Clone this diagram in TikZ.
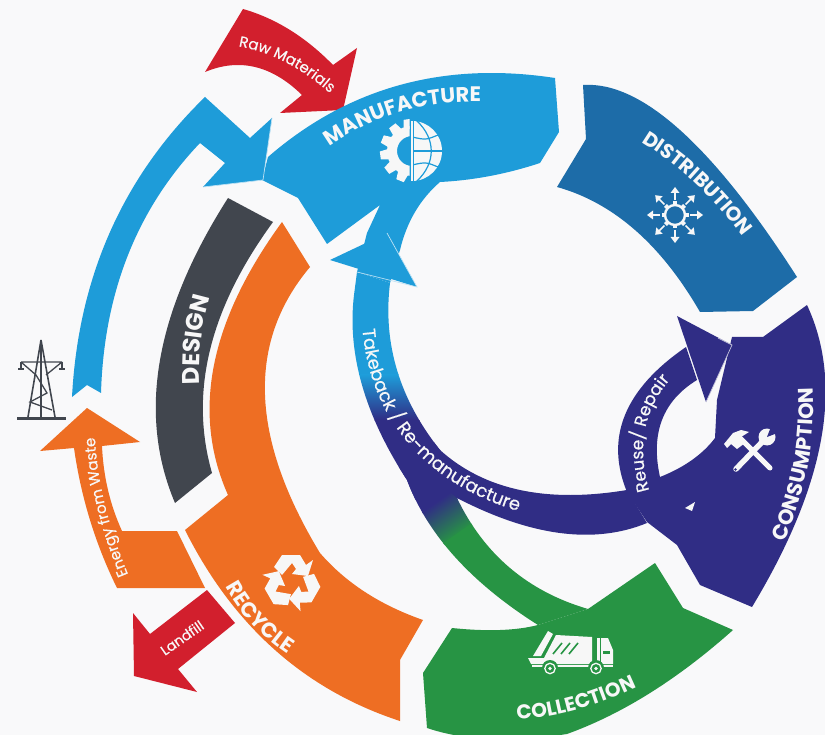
\documentclass[tikz,border=0pt]{standalone}
\usepackage{fontspec}
\usetikzlibrary{decorations.text}
\setmainfont{Poppins}
\newfontfamily\hdfont{Poppins}
\newfontfamily\smfont[FakeBold=0.5]{Poppins}
\definecolor{bgc}{HTML}{F9F9FA}
\definecolor{lblue}{HTML}{1E9CD9}
\definecolor{dblue}{HTML}{1D6CA8}
\definecolor{purp}{HTML}{302D85}
\definecolor{grn}{HTML}{279444}
\definecolor{org}{HTML}{EE6E23}
\definecolor{drk}{HTML}{41464E}
\definecolor{rd}{HTML}{D21F2D}
\definecolor{wht}{HTML}{F7F7F7}
% curve from a through m to b: \qa{ax}{ay}{mx}{my}{bx}{by}
\newcommand\qa[6]{.. controls ({#1+2/3*(2*#3-(#1+#5)/2-#1)},{#2+2/3*(2*#4-(#2+#6)/2-#2)}) and ({#5+2/3*(2*#3-(#1+#5)/2-#5)},{#6+2/3*(2*#4-(#2+#6)/2-#6)}) .. (#5,#6)}
\tikzset{
 hd/.style 2 args={decorate,decoration={text along path,text align=center,text={|\hdfont\bfseries\fontsize{#1}{#1}\selectfont\color{wht}|#2}}},
 sm/.style 2 args={decorate,decoration={text along path,text align=center,text={|\smfont\fontsize{#1}{#1}\selectfont\color{wht}|#2}}},
}
\begin{document}
\begin{tikzpicture}[x=1pt,y=-1pt]
\useasboundingbox (0,0) rectangle (825,735);
\fill[bgc] (0,0) rectangle (825,735);
% raw materials
\fill[rd] (243,9) \qa{243}{9}{290}{30}{333}{65} -- (357,48) -- (343,110) -- (280,113) -- (302,95) \qa{302}{95}{255}{67}{205}{72} -- cycle;
% energy loop arrow
\fill[lblue] (72,397) \qa{72}{397}{110}{232}{205}{97} -- (250,138) -- (272,118) -- (263,180) -- (203,187) -- (225,163) -- (200,143) \qa{200}{143}{128}{255}{101}{393} -- (87,385) -- cycle;
% manufacture
\fill[lblue] (262,180) -- (268,157) \qa{268}{157}{400}{85}{555}{78} -- (559,132) -- (540,163) \qa{540}{163}{490}{176}{440}{182} \qa{440}{182}{415}{212}{400}{250} -- (390,283) -- (357,272) -- (367,233) -- (380,205) -- (327,244) -- (298,198) -- cycle;
% distribution
\fill[dblue] (583,85) \qa{583}{85}{680}{130}{797}{277} -- (753,311) -- (700,312) \qa{700}{312}{635}{230}{557}{187} -- (586,139) -- cycle;
% design
\fill[drk] (228,198) -- (273,222) \qa{273}{222}{210}{350}{212}{473} -- (175,503) \qa{175}{503}{160}{360}{228}{198} -- cycle;
% recycle
\fill[org] (282,222) -- (310,267) \qa{310}{267}{265}{395}{320}{553} \qa{320}{553}{365}{592}{423}{620} -- (400,660) -- (400,721) \qa{400}{721}{275}{650}{185}{530} -- (228,495) \qa{228}{495}{214}{365}{282}{222} -- cycle;
% energy from waste
\fill[org] (87,408) -- (140,442) -- (102,446) \qa{102}{446}{108}{490}{122}{531} -- (177,531) -- (205,588) -- (117,588) \qa{117}{588}{90}{520}{74}{448} -- (40,451) -- cycle;
% landfill
\fill[rd] (207,590) -- (235,623) -- (178,669) -- (197,692) -- (134,676) -- (133,613) -- (150,634) -- cycle;
% takeback band with gradients
\begin{scope}
\clip (357,272) -- (354,295) \qa{354}{295}{362}{385}{407}{480} \qa{407}{480}{455}{557}{538}{625} -- (588,609) \qa{588}{609}{510}{568}{457}{498} -- (440,450) \qa{440}{450}{397}{370}{390}{283} -- cycle;
\fill[lblue] (330,250) rectangle (430,375);
\shade[top color=lblue,bottom color=purp] (330,375) rectangle (430,420);
\fill[purp] (330,420) rectangle (480,500);
\begin{scope}[transform canvas={rotate around={35:(445,520)}}]
\fill[purp] (380,450) rectangle (510,502);
\shade[top color=purp,bottom color=grn] (380,500) rectangle (510,540);
\fill[grn] (380,538) rectangle (620,680);
\end{scope}
\end{scope}
% purple band
\fill[purp] (440,450) \qa{440}{450}{520}{490}{627}{490} -- (647,523) \qa{647}{523}{560}{533}{457}{498} -- (425,470) -- cycle;
% collection
\fill[grn] (538,625) -- (588,609) -- (655,563) -- (683,608) -- (733,630) \qa{733}{630}{650}{693}{567}{734} \qa{567}{734}{490}{739}{427}{728} -- (423,673) -- (452,628) \qa{452}{628}{500}{630}{538}{625} -- cycle;
% consumption
\fill[purp] (732,337) -- (763,337) -- (807,305) \qa{807}{305}{821}{440}{752}{607} -- (700,585) -- (677,545) -- (647,522) -- (627,492) \qa{627}{492}{625}{415}{686}{347} -- (697,380) \qa{697}{380}{662}{420}{660}{477} \qa{660}{477}{692}{460}{715}{438} -- (717,400) -- cycle;
\fill[wht] (685,508) -- (695,502) -- (692,511) -- cycle;
% arrow heads with light edges
\fill[lblue] (330,260) -- (387,233) -- (417,287) -- cycle;
\draw[white!70!lblue,line width=.7pt] (357,272) -- (417,287) -- (387,233);
\draw[white!70!lblue,line width=.7pt] (272,118) -- (263,180) -- (203,187);
\fill[purp] (677,316) -- (732,345) -- (706,402) -- cycle;
\draw[white!70!purp,line width=.7pt] (718,338) -- (732,345) -- (706,402);
% text
\path[hd={21}{MANUFACTURE}] (327,148) \qa{327}{148}{400}{112}{484}{102};
\path[hd={20}{DISTRIBUTION}] (638,140) \qa{638}{140}{695}{183}{745}{240};
\path[hd={21}{CONSUMPTION}] (783,545) \qa{783}{545}{808}{465}{813}{385};
\path[hd={20}{COLLECTION}] (508,720) \qa{508}{720}{575}{710}{645}{683};
\path[hd={21}{RECYCLE}] (224,584) \qa{224}{584}{252}{624}{290}{656};
\path[hd={24}{DESIGN}] (200,385) \qa{200}{385}{201}{340}{210}{296};
\path[sm={15}{Raw Materials}] (236,46) \qa{236}{46}{285}{62}{332}{95};
\path[sm={18}{Takeback / Re-manufacture}] (362,322) .. controls (368,430) and (440,490) .. (525,513);
\path[sm={17}{Reuse/ Repair}] (652,499) \qa{652}{499}{645}{430}{676}{373};
\path[sm={15}{Energy from Waste}] (128,574) \qa{128}{574}{105}{505}{95}{438};
\path[sm={14}{Landfill}] (162,658) -- (208,626);
% gear-globe icon
\begin{scope}[shift={(412,151)}]
\fill[wht] (-1.5,-30) rectangle (1,30);
\begin{scope}
\clip (2,-31) rectangle (32,31);
\fill[wht] (0,0) circle (30);
\draw[lblue,line width=1.2pt] (-1,0) -- (32,0);
\draw[lblue,line width=1.2pt] (0,-14) .. controls (14,-11) .. (26,-16);
\draw[lblue,line width=1.2pt] (0,14) .. controls (14,11) .. (26,16);
\draw[lblue,line width=1.2pt] (5,-30) .. controls (24,-12) and (24,12) .. (5,30);
\end{scope}
\begin{scope}
\clip (-40,-34) rectangle (-2.5,34);
\fill[wht,even odd rule] (0,0) circle (25) (0,0) circle (15);
\foreach \a in {98,128,158,188,218,248,278}{
 \fill[wht,rotate=\a] (22,-5.5) -- (32,-4) -- (32,4) -- (22,5.5) -- cycle;}
\end{scope}
\end{scope}
% distribution icon
\begin{scope}[shift={(675,215)}]
\draw[wht,line width=2.4pt] (0,0) circle (10);
\foreach \a in {0,45,...,315}{
 \begin{scope}[rotate=\a]
 \fill[wht] (10,-2) rectangle (13.5,2);
 \draw[wht,line width=1.5pt] (15,0) -- (24,0);
 \fill[wht] (28,0) -- (22,-4.5) -- (22,4.5) -- cycle;
 \end{scope}}
\end{scope}
% tools icon
\draw[wht,line width=5pt,line cap=round] (770,468) -- (740,438);
\fill[wht] (724,444) -- (733,433) -- (741,430) -- (749,432) -- (741,437) -- (745,443) -- (737,449) -- (731,444) -- (727,448) -- cycle;
\draw[wht,line width=5.5pt,line cap=round] (736,469) -- (764,440);
\fill[wht] (767,437) circle (8.5);
\fill[purp] (767,437) -- (772,424) -- (780,432) -- cycle;
\fill[purp] (735.5,469.5) circle (1.3);
% truck icon
\fill[wht] (548,631) -- (553,634) -- (541,656) -- (533,656) -- cycle;
\fill[wht] (556,635) -- (592,637) -- (592,658) -- (544,658) -- cycle;
\fill[wht] (528,658) -- (592,658) -- (592,664) -- (531,664) -- cycle;
\draw[grn,line width=1.6pt] (553,654) -- (562,643) (561,654) -- (570,643) (569,654) -- (578,643);
\fill[wht] (597,638) -- (608,638) -- (613,650) -- (613,664) -- (597,664) -- cycle;
\draw[grn,line width=.8pt] (600,638) -- (600,664);
\fill[grn] (603,654) rectangle (610,651);
\fill[wht] (532,665) rectangle (613,667);
\foreach \x in {550,596}{
 \fill[grn] (\x,668) circle (8);
 \draw[wht,line width=1.3pt] (\x,668.5) circle (5.2);
 \fill[wht] (\x,668.5) circle (1.8);}
% recycle icon
\begin{scope}[shift={(292,582)}]
\foreach \a in {0,120,240}{
 \fill[wht,rotate=\a] (-18,-15) -- (-10,-27) -- (8,-27) -- (14,-17) -- (21,-22) -- (16,-6) -- (0,-8) -- (4,-13) -- (0,-19) -- (-10,-7) -- cycle;}
\end{scope}
% tower icon
\begin{scope}[drk,line width=1.3pt]
\fill[drk] (17,416.5) rectangle (66,420);
\draw[line width=1.6pt] (41,340) -- (28,417) (41,340) -- (55,417) (41,342) -- (41,417);
\draw (21,362) -- (62,362) (21,362) -- (36,375) (62,362) -- (46,375) (36,375) -- (47,393) -- (30,402) -- (52,410);
\draw (21,362) -- (21,369) (18,369) -- (24,369) (62,362) -- (62,369) (59,369) -- (65,369);
\end{scope}
\end{tikzpicture}
\end{document}
